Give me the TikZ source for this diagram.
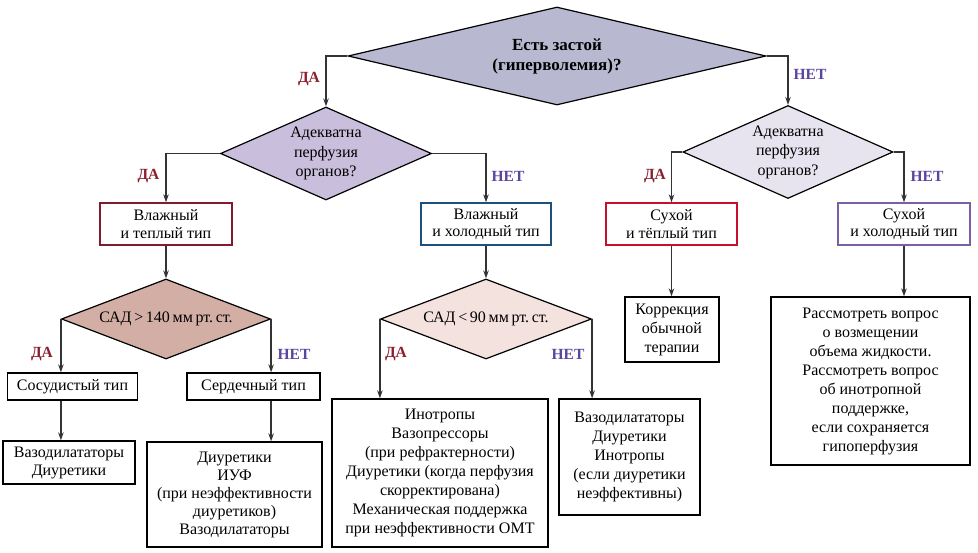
\documentclass[tikz,border=0pt]{standalone}
\usepackage{fontspec}
\setmainfont{Liberation Serif}
\usetikzlibrary{shapes.geometric,arrows.meta}
\definecolor{topc}{HTML}{B8B9D0}
\definecolor{leftc}{HTML}{C9BFDC}
\definecolor{rightc}{HTML}{E7E4F0}
\definecolor{sadhi}{HTML}{D3AEA5}
\definecolor{sadlo}{HTML}{F3E2DD}
\definecolor{wwc}{HTML}{7F1D2D}
\definecolor{wcc}{HTML}{1E4F7F}
\definecolor{dwc}{HTML}{C8102E}
\definecolor{dcc}{HTML}{7B5EA7}
\definecolor{dac}{HTML}{8B1F2F}
\definecolor{netc}{HTML}{5B45A0}
\definecolor{arrowc}{HTML}{333333}
\begin{document}
\begin{tikzpicture}[x=1pt,y=-1pt,
  every node/.style={font=\fontsize{16}{18.5}\selectfont, align=center, inner sep=0pt},
  dia/.style={diamond, draw=black, line width=1.2pt},
  box/.style={draw=black, line width=1.3pt, rectangle},
  arr/.style={draw=arrowc, line width=1.5pt, -{Stealth[length=8pt,width=5.5pt]}},
  lbl/.style={font=\fontsize{15.5}{17}\selectfont\bfseries},
  da/.style={lbl, text=dac},
  net/.style={lbl, text=netc}]
\useasboundingbox (0,0) rectangle (978,553);

% diamonds
\node[dia, fill=topc, minimum width=418pt, minimum height=98pt, aspect=4.27,
      font=\fontsize{17}{20}\selectfont\bfseries] (q1) at (557,56) {Есть застой\\(гиперволемия)?};
\node[dia, fill=leftc, minimum width=211pt, minimum height=93pt, aspect=2.27,
      font=\fontsize{16}{19.5}\selectfont] (q2) at (326,153.5) {Адекватна\\перфузия\\органов?};
\node[dia, fill=rightc, minimum width=210pt, minimum height=93pt, aspect=2.26,
      font=\fontsize{16}{19.5}\selectfont] (q3) at (788,152) {Адекватна\\перфузия\\органов?};
\node[dia, fill=sadhi, minimum width=209pt, minimum height=80pt, aspect=2.61] (q4) at (166,319)
      {САД\,>\,140\,мм\,рт.\,ст.};
\node[dia, fill=sadlo, minimum width=211pt, minimum height=80pt, aspect=2.64] (q5) at (486,319)
      {САД\,<\,90\,мм\,рт.\,ст.};

% type boxes
\node[box, draw=wwc, minimum width=132pt, minimum height=42pt,
      font=\fontsize{16}{17.5}\selectfont] (b1) at (166,224) {Влажный\\и теплый тип};
\node[box, draw=wcc, minimum width=130pt, minimum height=42pt,
      font=\fontsize{16}{17.5}\selectfont] (b2) at (486,224) {Влажный\\и холодный тип};
\node[box, draw=dwc, minimum width=131pt, minimum height=42pt,
      font=\fontsize{16}{17.5}\selectfont] (b3) at (671.5,224) {Сухой\\и тёплый тип};
\node[box, draw=dcc, minimum width=132pt, minimum height=42pt,
      font=\fontsize{16}{17.5}\selectfont] (b4) at (904,224) {Сухой\\и холодный тип};

\node[box, minimum width=130pt, minimum height=27pt] (c1) at (72.5,386.5) {Сосудистый тип};
\node[box, minimum width=133pt, minimum height=27pt] (c2) at (253.5,386.5) {Сердечный тип};

% therapy boxes
\node[box, minimum width=132pt, minimum height=43pt,
      font=\fontsize{16}{18}\selectfont] (t1) at (69,462.5) {Вазодилататоры\\Диуретики};
\node[box, minimum width=175pt, minimum height=105pt,
      font=\fontsize{16}{18}\selectfont] (t2) at (234.5,494.5)
      {Диуретики\\ИУФ\\(при неэффективности\\диуретиков)\\Вазодилататоры};
\node[box, minimum width=216pt, minimum height=148pt,
      font=\fontsize{16}{19}\selectfont] (t3) at (440,473)
      {Инотропы\\Вазопрессоры\\(при рефрактерности)\\Диуретики (когда перфузия\\скорректирована)\\Механическая поддержка\\при неэффективности ОМТ};
\node[box, minimum width=141pt, minimum height=116pt,
      font=\fontsize{16}{19}\selectfont] (t4) at (629.5,457)
      {Вазодилататоры\\Диуретики\\Инотропы\\(если диуретики\\неэффективны)};
\node[box, minimum width=94pt, minimum height=65pt,
      font=\fontsize{16}{19}\selectfont] (t5) at (672,329.5)
      {Коррекция\\обычной\\терапии};
\node[box, minimum width=199pt, minimum height=168pt,
      font=\fontsize{16}{19}\selectfont] (t6) at (870.5,381)
      {Рассмотреть вопрос\\о возмещении\\объема жидкости.\\Рассмотреть вопрос\\об инотропной\\поддержке,\\если сохраняется\\гипоперфузия};

% connectors
\draw[arr] (q1.west) -| (q2.north);
\draw[arr] (q1.east) -| (q3.north);
\draw[arr] (q2.west) -| (b1.north);
\draw[arr] (q2.east) -| (b2.north);
\draw[arr] (q3.west) -| (b3.north);
\draw[arr] (q3.east) -| (b4.north);
\draw[arr] (b1.south) -- (q4.north);
\draw[arr] (b2.south) -- (q5.north);
\draw[arr] (q4.west) -- (q4.west |- c1.north);
\draw[arr] (q4.east) -- (q4.east |- c2.north);
\draw[arr] (q4.west |- c1.south) -- (q4.west |- t1.north);
\draw[arr] (q4.east |- c2.south) -- (q4.east |- t2.north);
\draw[arr] (q5.west) -- (q5.west |- t3.north);
\draw[arr] (q5.east) -- (q5.east |- t4.north);
\draw[arr] (b3.south) -- (b3.south |- t5.north);
\draw[arr] (b4.south) -- (b4.south |- t6.north);

% labels
\node[da] (l1) at (309,79) {ДА};
\node[net] (l2) at (810,74) {НЕТ};
\node[da] (l3) at (148.5,176) {ДА};
\node[net] (l4) at (508,176) {НЕТ};
\node[da] (l5) at (655,176) {ДА};
\node[net] (l6) at (927,176) {НЕТ};
\node[da] (l7) at (42,354) {ДА};
\node[net] (l8) at (294,354) {НЕТ};
\node[da] (l9) at (396,354) {ДА};
\node[net] (l10) at (568,354) {НЕТ};
\end{tikzpicture}
\end{document}
